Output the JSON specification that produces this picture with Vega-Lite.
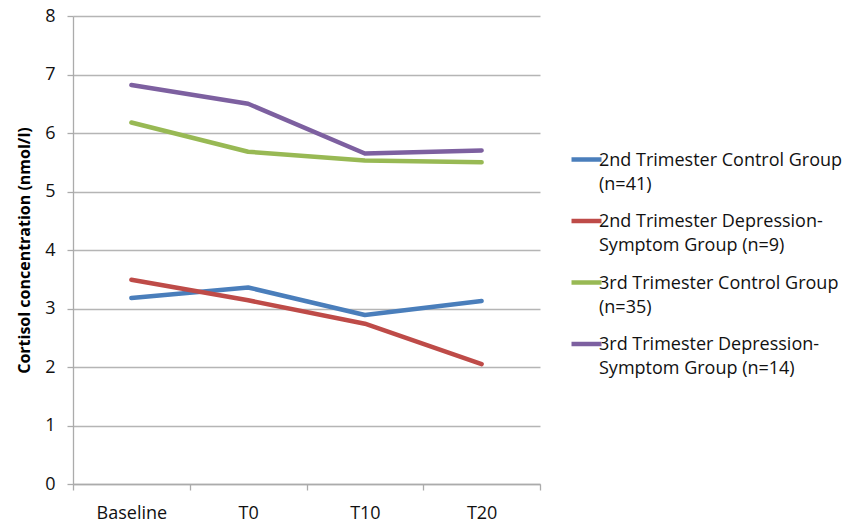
{
  "$schema": "https://vega.github.io/schema/vega-lite/v6.json",
  "width": 467,
  "height": 468,
  "autosize": "none",
  "padding": {"left": 73, "top": 16, "right": 320, "bottom": 38},
  "background": "white",
  "config": {
    "font": "Open Sans",
    "view": {"stroke": null}
  },
  "data": {
    "values": [
      {"time": "Baseline", "group": "2nd Trimester Control Group|(n=41)", "value": 3.18},
      {"time": "T0", "group": "2nd Trimester Control Group|(n=41)", "value": 3.36},
      {"time": "T10", "group": "2nd Trimester Control Group|(n=41)", "value": 2.89},
      {"time": "T20", "group": "2nd Trimester Control Group|(n=41)", "value": 3.13},
      {"time": "Baseline", "group": "2nd Trimester Depression-|Symptom Group (n=9)", "value": 3.49},
      {"time": "T0", "group": "2nd Trimester Depression-|Symptom Group (n=9)", "value": 3.14},
      {"time": "T10", "group": "2nd Trimester Depression-|Symptom Group (n=9)", "value": 2.74},
      {"time": "T20", "group": "2nd Trimester Depression-|Symptom Group (n=9)", "value": 2.05},
      {"time": "Baseline", "group": "3rd Trimester Control Group|(n=35)", "value": 6.18},
      {"time": "T0", "group": "3rd Trimester Control Group|(n=35)", "value": 5.68},
      {"time": "T10", "group": "3rd Trimester Control Group|(n=35)", "value": 5.53},
      {"time": "T20", "group": "3rd Trimester Control Group|(n=35)", "value": 5.5},
      {"time": "Baseline", "group": "3rd Trimester Depression-|Symptom Group (n=14)", "value": 6.82},
      {"time": "T0", "group": "3rd Trimester Depression-|Symptom Group (n=14)", "value": 6.5},
      {"time": "T10", "group": "3rd Trimester Depression-|Symptom Group (n=14)", "value": 5.65},
      {"time": "T20", "group": "3rd Trimester Depression-|Symptom Group (n=14)", "value": 5.7}
    ]
  },
  "mark": {"type": "line", "strokeWidth": 4.5, "strokeCap": "round", "strokeJoin": "round"},
  "encoding": {
    "x": {
      "field": "time",
      "type": "ordinal",
      "sort": ["Baseline", "T0", "T10", "T20"],
      "scale": {"type": "band", "paddingInner": 0, "paddingOuter": 0},
      "axis": {
        "title": null,
        "labelAngle": 0,
        "labelFont": "Open Sans",
        "labelFontSize": 18,
        "labelColor": "#111111",
        "labelPadding": 14,
        "tickBand": "extent",
        "tickSize": 6,
        "tickColor": "#ababab",
        "tickWidth": 1.3,
        "domainColor": "#ababab",
        "domainWidth": 1.3,
        "grid": false
      }
    },
    "y": {
      "field": "value",
      "type": "quantitative",
      "scale": {"domain": [0, 8], "nice": false, "zero": true},
      "axis": {
        "title": "Cortisol concentration (nmol/l)",
        "titleFont": "Open Sans",
        "titleFontSize": 16,
        "titleFontWeight": "bold",
        "titleColor": "#000000",
        "titlePadding": 12,
        "values": [0, 1, 2, 3, 4, 5, 6, 7, 8],
        "labelFont": "Open Sans",
        "labelFontSize": 18,
        "labelColor": "#111111",
        "labelPadding": 12,
        "tickSize": 6,
        "tickColor": "#ababab",
        "tickWidth": 1.3,
        "domainColor": "#ababab",
        "domainWidth": 1.3,
        "grid": true,
        "gridColor": "#b5b5b5",
        "gridWidth": 1.3
      }
    },
    "color": {
      "field": "group",
      "type": "nominal",
      "scale": {
        "domain": [
          "2nd Trimester Control Group|(n=41)",
          "2nd Trimester Depression-|Symptom Group (n=9)",
          "3rd Trimester Control Group|(n=35)",
          "3rd Trimester Depression-|Symptom Group (n=14)"
        ],
        "range": ["#4A7EBB", "#BE4B48", "#98B954", "#7D60A0"]
      },
      "legend": {
        "title": null,
        "orient": "none",
        "legendX": 496,
        "legendY": 126,
        "padding": 0,
        "symbolType": "stroke",
        "symbolSize": 900,
        "symbolStrokeWidth": 4.5,
        "labelFont": "Open Sans",
        "labelFontSize": 18,
        "labelColor": "#111111",
        "labelLimit": 0,
        "labelOffset": -5,
        "labelBaseline": "top",
        "rowPadding": 9.5,
        "labelExpr": "split(datum.label, '|')",
        "encode": {
          "labels": {"update": {"dy": {"value": -8}, "lineHeight": {"value": 24}}}
        }
      }
    }
  }
}
